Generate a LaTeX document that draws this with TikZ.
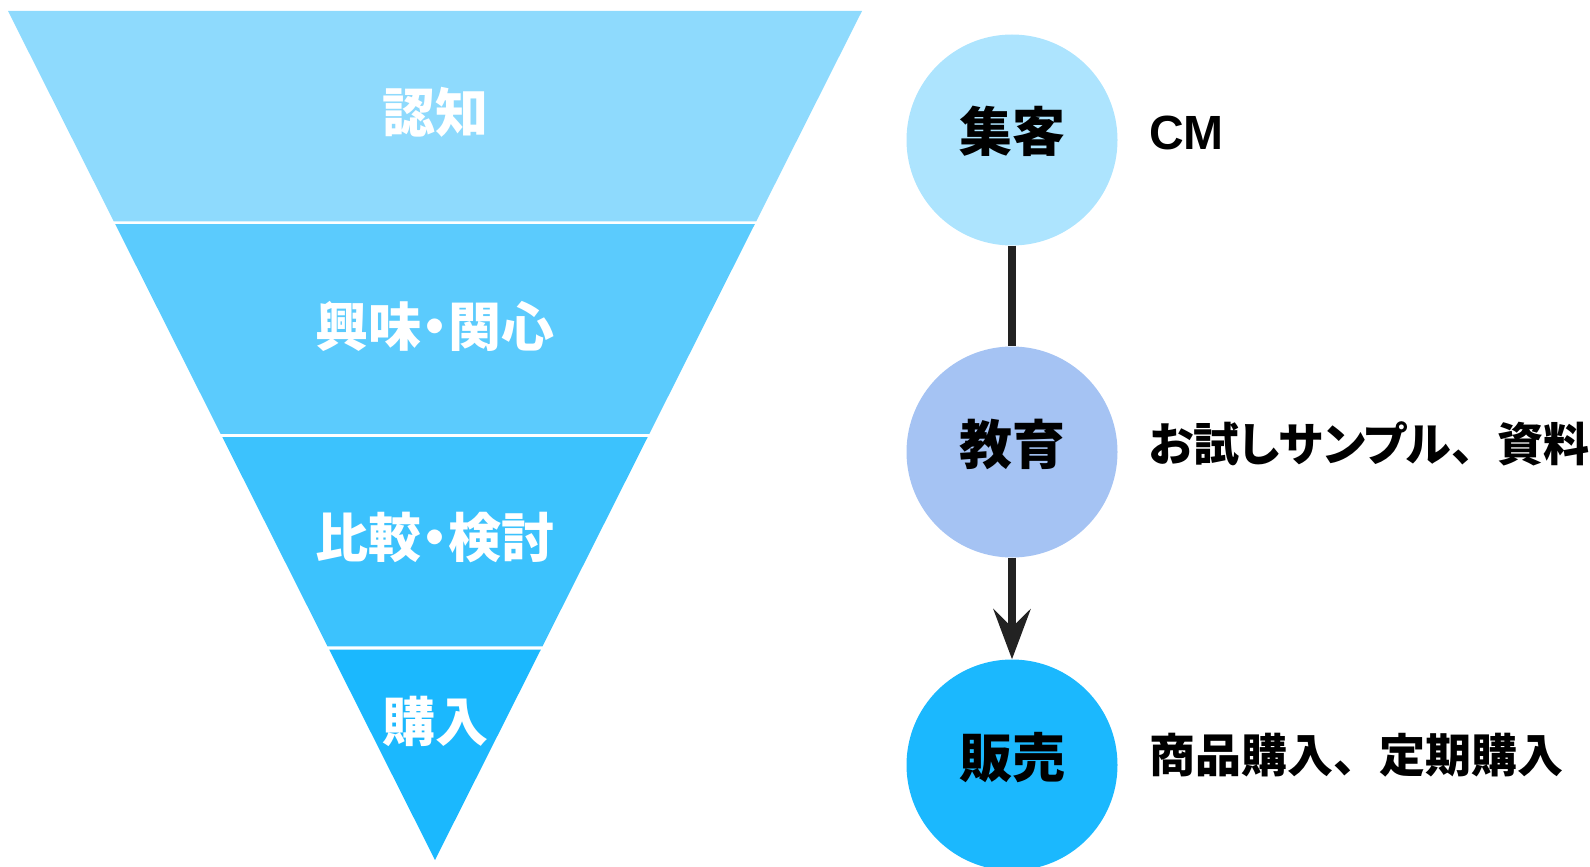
\documentclass[tikz,border=0pt]{standalone}
\usepackage{fontspec}
\setmainfont{Noto Sans CJK JP}
\newfontfamily\latinb{Liberation Sans}
\usetikzlibrary{calc,arrows.meta}
\definecolor{sA}{RGB}{142,218,253}
\definecolor{sB}{RGB}{91,203,253}
\definecolor{sC}{RGB}{60,194,253}
\definecolor{sD}{RGB}{27,184,254}
\definecolor{cA}{RGB}{173,228,254}
\definecolor{cB}{RGB}{165,195,243}
\definecolor{cC}{RGB}{27,184,254}
\definecolor{ink}{RGB}{34,34,34}
\newcommand\narrowdot{\makebox[0.5em][c]{・}}
\tikzset{
  flabel/.style={text=white,font=\bfseries\fontsize{53}{53}\selectfont,inner sep=0pt},
  stage/.style={circle,minimum size=211pt,inner sep=0pt,font=\bfseries\fontsize{53}{53}\selectfont,text=black},
  desc/.style={anchor=west,inner sep=0pt,font=\bfseries\fontsize{46}{46}\selectfont,text=black},
  conn/.style={draw=ink,line width=7.7pt},
}
\begin{document}
\begin{tikzpicture}[x=1pt,y=-1pt]
\useasboundingbox (0,0) rectangle (1590,867);
\coordinate (A) at (435,860);
\coordinate (L) at (8,11);
\coordinate (R) at (862,11);
% funnel slices
\fill[sA] ($(A)!1!(L)$) -- ($(A)!1!(R)$) -- ($(A)!0.7521!(R)$) -- ($(A)!0.7521!(L)$) -- cycle;
\fill[sB] ($(A)!0.7491!(L)$) -- ($(A)!0.7491!(R)$) -- ($(A)!0.5018!(R)$) -- ($(A)!0.5018!(L)$) -- cycle;
\fill[sC] ($(A)!0.4982!(L)$) -- ($(A)!0.4982!(R)$) -- ($(A)!0.2515!(R)$) -- ($(A)!0.2515!(L)$) -- cycle;
\fill[sD] ($(A)!0.2479!(L)$) -- ($(A)!0.2479!(R)$) -- (A) -- cycle;
\node[flabel] (f1) at (435,112.5) {認知};
\node[flabel] (f2) at (435,326.5) {興味\narrowdot 関心};
\node[flabel] (f3) at (435,537.5) {比較\narrowdot 検討};
\node[flabel] (f4) at (435,721.5) {購入};
% stages
\node[stage,fill=cA] (c1) at (1012,140) {};
\node[stage,fill=cB] (c2) at (1012,452) {};
\node[stage,fill=cC] (c3) at (1012,765) {};
\node[stage,fill=none] (t1) at (1012,131.5) {集客};
\node[stage,fill=none] (t2) at (1012,444.5) {教育};
\node[stage,fill=none] (t3) at (1012,757.5) {販売};
\draw[conn] (c1.south) -- (c2.north);
\draw[conn,-{Stealth[length=50pt,width=37pt,inset=18pt]}] (c2.south) -- (c3.north);
\node[desc] (d1) at (1149,132.5) {\latinb\fontsize{48}{48}\selectfont CM};
\node[desc] (d2) at (1149,443.5) {{\addfontfeatures{RawFeature=+palt}お試しサンプル}、資料};
\node[desc] (d3) at (1149,755) {商品購入、定期購入};
\end{tikzpicture}
\end{document}
